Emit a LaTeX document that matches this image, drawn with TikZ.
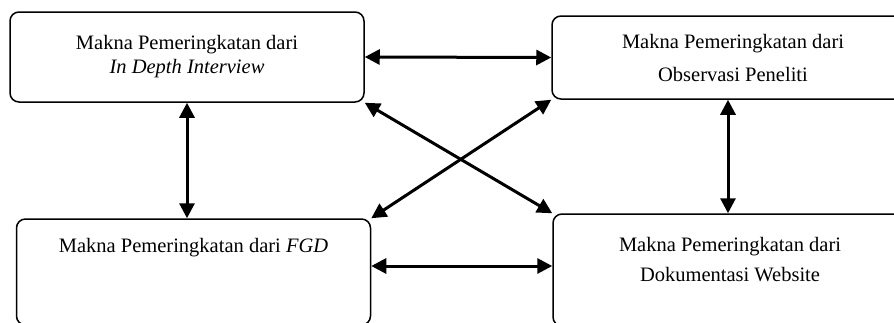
\documentclass[tikz,border=0pt]{standalone}
\usepackage{fontspec}
\setmainfont{Liberation Serif}
\usepackage{tikz}
\usetikzlibrary{arrows.meta,positioning}

\tikzset{
  box/.style={draw,line width=1.5pt,rounded corners=9pt,minimum width=354pt,inner sep=0pt},
  boxtext/.style={font=\fontsize{20.5}{24}\selectfont,align=center,inner sep=0pt},
  link/.style={line width=3pt,{Triangle[length=15pt,width=15pt]}-{Triangle[length=15pt,width=15pt]}}
}

\begin{document}
\begin{tikzpicture}[x=1pt,y=-1pt]
\useasboundingbox (0,0) rectangle (894,322);
\clip (0,0) rectangle (894,322);
\node[box,minimum height=90pt,font=\fontsize{20.5}{24}\selectfont,align=center] (indepth) at (187,57) {Makna Pemeringkatan dari\\ \textit{In Depth Interview}};
\node[box,minimum width=362pt,minimum height=83pt,font=\fontsize{20.5}{33}\selectfont,align=center] (observasi) at (733,57.5) {Makna Pemeringkatan dari\\ Observasi Peneliti};
\node[box,minimum height=106pt] (fgd) at (193.5,272) {};
\node[box,minimum width=362pt,minimum height=112pt] (website) at (734,270) {};
\node[boxtext,below=20pt of fgd.north] (fgdtext) {Makna Pemeringkatan dari \textit{FGD}};
\node[boxtext,below=24pt of website.north,xshift=-4pt,font=\fontsize{20.5}{30}\selectfont] (websitetext) {Makna Pemeringkatan dari\\ Dokumentasi Website};
\draw[link] (indepth.east) -- (observasi.west);
\draw[link] (indepth.south) -- (indepth.south |- fgd.north);
\draw[link] ([xshift=-5pt]observasi.south) -- ([xshift=-5pt]observasi.south |- website.north);
\draw[link] ([yshift=6pt]fgd.east) -- ([yshift=6pt]fgd.east -| website.west);
\draw[link] (indepth.south east) -- (website.north west);
\draw[link] (fgd.north east) -- (observasi.south west);
\end{tikzpicture}
\end{document}
